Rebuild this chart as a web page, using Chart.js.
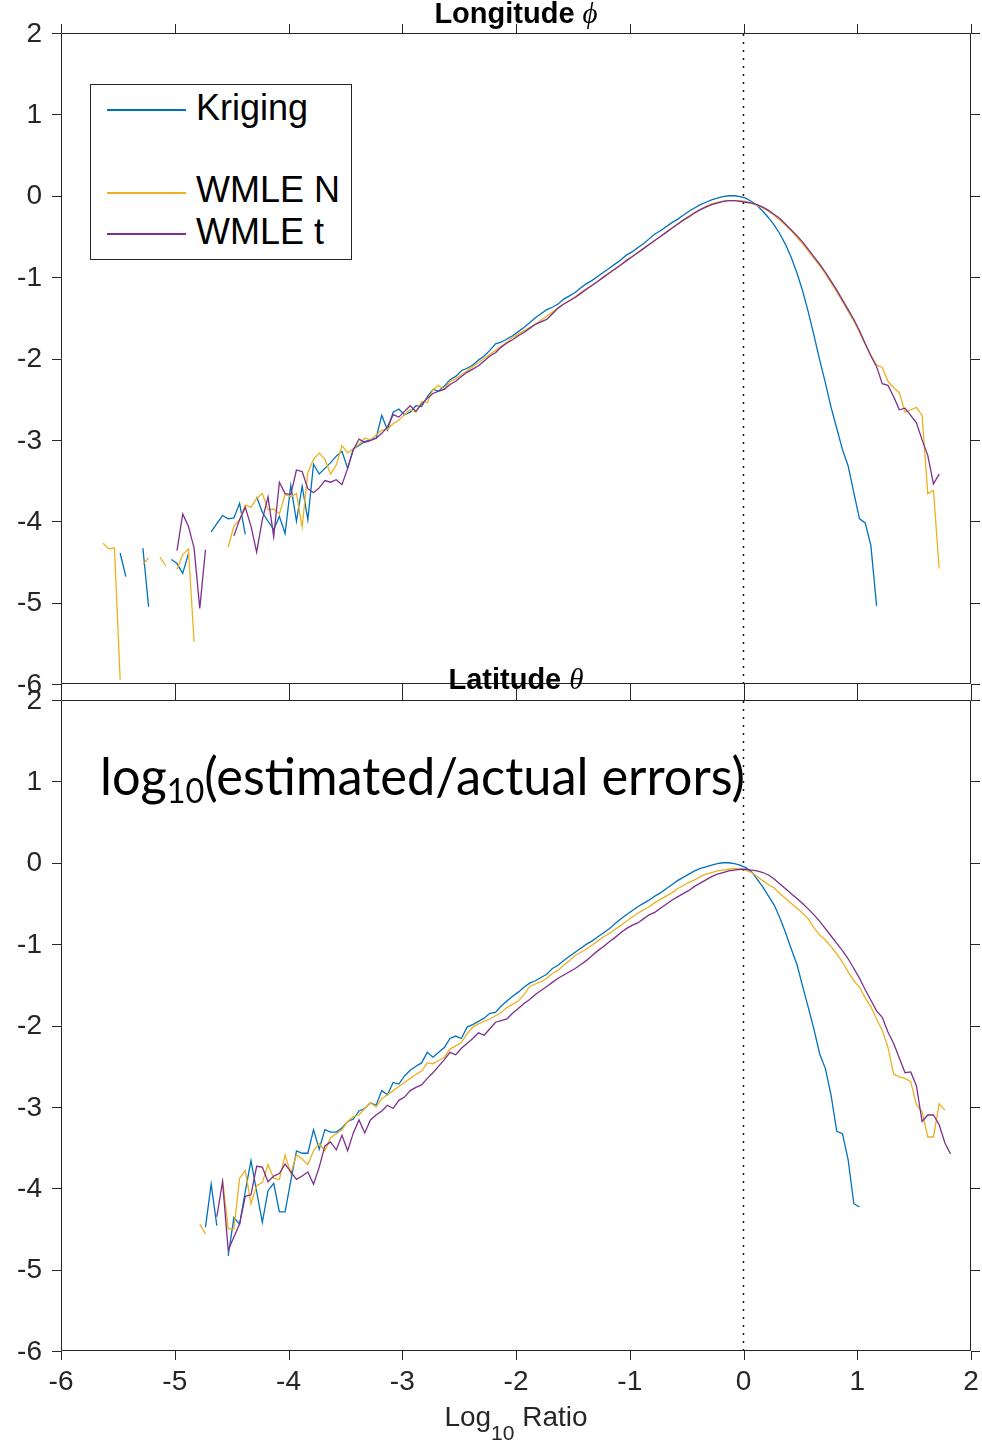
<!DOCTYPE html>
<html>
<head>
<meta charset="utf-8">
<title>log10(estimated/actual errors)</title>
<script src="https://cdn.jsdelivr.net/npm/chart.js@4.4.1/dist/chart.umd.min.js"></script>
<style>
  body { margin: 0; background: #fff; }
  #wrap { position: relative; width: 982px; height: 1440px; overflow: hidden; background: #fff; }
  #wrap canvas { position: absolute; left: 0; }
  #lonChart { top: 0; }
  #latChart { top: 667px; }
  .txt { position: absolute; white-space: nowrap; line-height: 1; color: #000; }
  .title { left: 61px; width: 910px; text-align: center; font: bold 29px "Liberation Sans", Arial, sans-serif; }
  .title i { font: italic 29px "Liberation Serif", "DejaVu Serif", serif; }
  #note { left: 100px; top: 743px; font: 53px Lato, "Open Sans", sans-serif; transform-origin: 0 0; }
  #note sub { font-size: 34px; vertical-align: -8px; }
  #xlabel { left: 61px; width: 910px; top: 1401px; text-align: center; font: 28px "Liberation Sans", Arial, sans-serif; color: #262626; }
  #xlabel sub { font-size: 21px; vertical-align: -14px; }
  #legend { position: absolute; left: 90px; top: 84px; width: 260px; height: 174px; border: 1px solid #262626; background: #fff; }
  #legend .ln { position: absolute; left: 16px; width: 79px; height: 1.5px; }
  #legend .lb { position: absolute; left: 105px; font: 36px "Liberation Sans", Arial, sans-serif; line-height: 1; white-space: nowrap; }
</style>
</head>
<body>
<div id="wrap">
  <canvas id="lonChart" width="982" height="700"></canvas>
  <canvas id="latChart" width="982" height="773"></canvas>

  <div class="txt title" style="top:-3px">Longitude <i>ϕ</i></div>
  <div class="txt title" style="top:663px">Latitude <i>θ</i></div>
  <div class="txt" id="note">log<sub>10</sub>(estimated/actual errors)</div>
  <div class="txt" id="xlabel">Log<sub>10</sub> Ratio</div>

  <div id="legend">
    <div class="ln" style="top:24px;background:#0072BD"></div>
    <div class="lb" style="top:4.5px">Kriging</div>
    <div class="ln" style="top:107px;background:#EDB120"></div>
    <div class="lb" style="top:86.5px">WMLE N</div>
    <div class="ln" style="top:148px;background:#7E2F8E"></div>
    <div class="lb" style="top:128.5px">WMLE t</div>
  </div>
</div>

<script>
// axis ticks (both panels)
const xTicks = [-6, -5, -4, -3, -2, -1, 0, 1, 2];
const yTicks = [-6, -5, -4, -3, -2, -1, 0, 1, 2];

// ---- Longitude phi (top panel) ----
const lonX = [
  -5.63,-5.58,-5.53,-5.48,-5.43,-5.38,-5.33,-5.28,-5.23,-5.18,
  -5.13,-5.08,-5.03,-4.98,-4.93,-4.88,-4.83,-4.78,-4.73,-4.68,
  -4.63,-4.58,-4.53,-4.48,-4.43,-4.38,-4.33,-4.28,-4.23,-4.18,
  -4.13,-4.08,-4.03,-3.98,-3.93,-3.88,-3.83,-3.78,-3.73,-3.68,
  -3.63,-3.58,-3.53,-3.48,-3.43,-3.38,-3.33,-3.28,-3.23,-3.18,
  -3.13,-3.08,-3.03,-2.98,-2.93,-2.88,-2.83,-2.78,-2.73,-2.68,
  -2.63,-2.58,-2.53,-2.48,-2.43,-2.38,-2.33,-2.28,-2.23,-2.18,
  -2.13,-2.08,-2.03,-1.98,-1.93,-1.88,-1.83,-1.78,-1.73,-1.68,
  -1.63,-1.58,-1.53,-1.48,-1.43,-1.38,-1.33,-1.28,-1.23,-1.18,
  -1.13,-1.08,-1.03,-0.98,-0.93,-0.88,-0.83,-0.78,-0.73,-0.68,
  -0.63,-0.58,-0.53,-0.48,-0.43,-0.38,-0.33,-0.28,-0.23,-0.18,
  -0.13,-0.08,-0.03,0.02,0.07,0.12,0.17,0.22,0.27,0.32,
  0.37,0.42,0.47,0.52,0.57,0.62,0.67,0.72,0.77,0.82,
  0.87,0.92,0.97,1.02,1.07,1.12,1.17,1.22,1.27,1.32,
  1.37,1.42,1.47,1.52,1.57,1.62,1.67,1.72,1.77
];
const lonKriging = [
  null,null,null,-4.39,-4.68,null,null,-4.33,-5.05,null,
  null,null,-4.47,-4.52,-4.64,-4.40,null,null,null,-4.13,
  -4.03,-3.93,-3.97,-3.96,-3.78,-4.16,null,-3.70,-3.89,-4.00,
  -4.10,-3.94,-4.15,-3.56,-4.00,-3.57,-3.98,-3.30,-3.42,-3.35,
  -3.28,-3.20,-3.14,-3.35,-3.11,-3.07,-3.02,-3.00,-2.98,-2.70,
  -2.88,-2.66,-2.62,-2.69,-2.66,-2.58,-2.59,-2.47,-2.38,-2.40,
  -2.34,-2.26,-2.22,-2.15,-2.12,-2.08,-2.02,-1.97,-1.90,-1.82,
  -1.80,-1.76,-1.72,-1.67,-1.62,-1.56,-1.50,-1.45,-1.40,-1.37,
  -1.33,-1.27,-1.23,-1.19,-1.13,-1.08,-1.04,-0.99,-0.94,-0.89,
  -0.84,-0.79,-0.73,-0.69,-0.64,-0.59,-0.53,-0.47,-0.43,-0.38,
  -0.33,-0.29,-0.24,-0.19,-0.15,-0.11,-0.08,-0.05,-0.03,-0.01,
  0.00,0.00,-0.01,-0.03,-0.07,-0.12,-0.19,-0.27,-0.36,-0.47,
  -0.60,-0.76,-0.95,-1.17,-1.43,-1.72,-2.02,-2.30,-2.60,-2.86,
  -3.12,-3.32,-3.65,-3.97,-4.02,-4.30,-5.04,null,null,null,
  null,null,null,null,null,null,null,null,null
];
const lonWmleN = [
  -4.27,-4.34,-4.33,-5.95,null,null,null,-4.53,-4.45,null,
  -4.44,-4.55,null,-4.59,-4.41,-4.34,-5.48,null,null,null,
  null,null,-4.32,-4.06,-3.98,-3.80,-3.83,-3.72,-3.66,-3.86,
  -3.85,-3.91,-3.67,-3.70,-3.66,-4.07,-3.40,-3.24,-3.16,-3.24,
  -3.42,-3.31,-3.07,-3.16,-3.11,-3.05,-2.98,-3.00,-2.94,-2.88,
  -2.87,-2.80,-2.76,-2.69,-2.63,-2.66,-2.53,-2.54,-2.38,-2.33,
  -2.38,-2.28,-2.25,-2.20,-2.15,-2.10,-2.05,-2.00,-1.95,-1.90,
  -1.85,-1.80,-1.74,-1.70,-1.66,-1.62,-1.58,-1.53,-1.48,-1.43,
  -1.38,-1.33,-1.29,-1.24,-1.19,-1.14,-1.10,-1.05,-1.00,-0.95,
  -0.90,-0.85,-0.79,-0.75,-0.70,-0.65,-0.60,-0.55,-0.50,-0.45,
  -0.40,-0.35,-0.30,-0.25,-0.21,-0.17,-0.13,-0.10,-0.08,-0.07,
  -0.06,-0.06,-0.06,-0.07,-0.09,-0.12,-0.15,-0.19,-0.24,-0.30,
  -0.36,-0.43,-0.51,-0.59,-0.68,-0.77,-0.86,-0.96,-1.07,-1.18,
  -1.30,-1.42,-1.54,-1.68,-1.82,-1.96,-2.08,-2.11,-2.28,-2.36,
  -2.42,-2.66,-2.63,-2.60,-2.70,-3.66,-3.62,-4.58,null
];
const lonWmleT = [
  null,null,null,null,null,null,null,null,null,null,
  null,null,null,-4.36,-3.91,-4.06,-4.33,-5.07,-4.35,null,
  null,null,null,-4.18,-3.98,-3.83,-4.06,-4.38,-3.98,-3.70,
  -4.19,-3.52,-3.66,-3.67,-3.37,-3.39,-3.60,-3.65,-3.59,-3.50,
  -3.52,-3.49,-3.55,-3.35,-3.12,-2.99,-3.03,-3.01,-2.98,-2.92,
  -2.84,-2.69,-2.72,-2.65,-2.58,-2.65,-2.56,-2.49,-2.43,-2.40,
  -2.38,-2.32,-2.28,-2.22,-2.17,-2.13,-2.09,-2.03,-1.97,-1.93,
  -1.86,-1.81,-1.77,-1.72,-1.68,-1.63,-1.58,-1.55,-1.52,-1.45,
  -1.38,-1.33,-1.29,-1.25,-1.20,-1.15,-1.10,-1.05,-1.00,-0.95,
  -0.90,-0.85,-0.80,-0.75,-0.70,-0.65,-0.60,-0.55,-0.50,-0.45,
  -0.40,-0.35,-0.30,-0.26,-0.21,-0.17,-0.14,-0.11,-0.09,-0.07,
  -0.06,-0.06,-0.07,-0.08,-0.09,-0.11,-0.14,-0.18,-0.23,-0.28,
  -0.35,-0.42,-0.49,-0.57,-0.66,-0.75,-0.84,-0.94,-1.05,-1.16,
  -1.28,-1.40,-1.52,-1.66,-1.82,-1.97,-2.10,-2.31,-2.33,-2.47,
  -2.63,-2.61,-2.70,-2.79,-3.00,-3.19,-3.54,-3.42,null
];

// ---- Latitude theta (bottom panel) ----
const latX = [
  -4.78,-4.73,-4.68,-4.63,-4.58,-4.53,-4.48,-4.43,-4.38,-4.33,
  -4.28,-4.23,-4.18,-4.13,-4.08,-4.03,-3.98,-3.93,-3.88,-3.83,
  -3.78,-3.73,-3.68,-3.63,-3.58,-3.53,-3.48,-3.43,-3.38,-3.33,
  -3.28,-3.23,-3.18,-3.13,-3.08,-3.03,-2.98,-2.93,-2.88,-2.83,
  -2.78,-2.73,-2.68,-2.63,-2.58,-2.53,-2.48,-2.43,-2.38,-2.33,
  -2.28,-2.23,-2.18,-2.13,-2.08,-2.03,-1.98,-1.93,-1.88,-1.83,
  -1.78,-1.73,-1.68,-1.63,-1.58,-1.53,-1.48,-1.43,-1.38,-1.33,
  -1.28,-1.23,-1.18,-1.13,-1.08,-1.03,-0.98,-0.93,-0.88,-0.83,
  -0.78,-0.73,-0.68,-0.63,-0.58,-0.53,-0.48,-0.43,-0.38,-0.33,
  -0.28,-0.23,-0.18,-0.13,-0.08,-0.03,0.02,0.07,0.12,0.17,
  0.22,0.27,0.32,0.37,0.42,0.47,0.52,0.57,0.62,0.67,
  0.72,0.77,0.82,0.87,0.92,0.97,1.02,1.07,1.12,1.17,
  1.22,1.27,1.32,1.37,1.42,1.47,1.52,1.57,1.62,1.67,
  1.72,1.77,1.82
];
const latKriging = [
  null,-4.48,-3.95,-4.46,null,-4.83,-4.36,-4.44,-4.04,-3.66,
  -4.04,-4.42,-4.03,-3.94,-4.29,-4.29,-3.91,-3.54,-3.57,-3.57,
  -3.28,-3.52,-3.28,-3.31,-3.31,-3.26,-3.18,-3.15,-3.05,-3.02,
  -2.95,-2.98,-2.80,-2.85,-2.70,-2.72,-2.62,-2.55,-2.50,-2.46,
  -2.33,-2.39,-2.33,-2.27,-2.16,-2.13,-2.16,-2.02,-1.99,-1.95,
  -1.91,-1.85,-1.84,-1.76,-1.70,-1.64,-1.59,-1.53,-1.48,-1.45,
  -1.41,-1.37,-1.30,-1.26,-1.20,-1.15,-1.10,-1.05,-1.00,-0.96,
  -0.91,-0.86,-0.81,-0.75,-0.69,-0.64,-0.59,-0.54,-0.50,-0.46,
  -0.41,-0.37,-0.32,-0.27,-0.22,-0.18,-0.14,-0.10,-0.07,-0.05,
  -0.03,-0.01,0.00,0.00,-0.01,-0.03,-0.06,-0.11,-0.20,-0.30,
  -0.41,-0.52,-0.68,-0.86,-1.06,-1.25,-1.52,-1.78,-2.05,-2.35,
  -2.53,-2.86,-3.30,-3.33,-3.65,-4.19,-4.23,null,null,null,
  null,null,null,null,null,null,null,null,null,null,
  null,null,null
];
const latWmleN = [
  -4.44,-4.56,null,null,-3.89,-4.50,-4.50,-3.88,-3.78,-4.19,
  -3.97,-3.93,-3.71,-3.88,-3.89,-3.59,-3.82,-3.59,-3.64,-3.71,
  -3.54,-3.45,-3.54,-3.38,-3.33,-3.28,-3.18,-3.12,-3.10,-3.02,
  -2.95,-3.00,-2.90,-2.85,-2.80,-2.75,-2.70,-2.65,-2.60,-2.56,
  -2.46,-2.47,-2.43,-2.39,-2.29,-2.25,-2.21,-2.10,-2.02,-1.98,
  -1.95,-1.92,-1.88,-1.84,-1.78,-1.74,-1.70,-1.62,-1.52,-1.49,
  -1.46,-1.42,-1.36,-1.32,-1.26,-1.20,-1.14,-1.10,-1.06,-1.01,
  -0.96,-0.91,-0.87,-0.82,-0.77,-0.72,-0.67,-0.62,-0.58,-0.54,
  -0.49,-0.45,-0.41,-0.37,-0.32,-0.28,-0.24,-0.21,-0.17,-0.14,
  -0.12,-0.10,-0.09,-0.08,-0.07,-0.08,-0.09,-0.12,-0.17,-0.22,
  -0.27,-0.31,-0.38,-0.44,-0.50,-0.56,-0.62,-0.69,-0.80,-0.89,
  -0.95,-1.03,-1.12,-1.22,-1.34,-1.45,-1.53,-1.66,-1.77,-1.92,
  -2.06,-2.27,-2.60,-2.63,-2.65,-2.69,-2.97,-3.06,-3.37,-3.37,
  -2.96,-3.04,null
];
const latWmleT = [
  null,null,null,-4.35,-3.92,-4.76,-4.60,-4.44,-4.10,-4.08,
  -3.73,-3.74,-3.92,-3.85,-3.82,-3.70,-3.80,-3.89,-3.85,-3.80,
  -3.95,-3.74,-3.48,-3.43,-3.53,-3.35,-3.54,-3.32,-3.16,-3.32,
  -3.16,-3.10,-3.05,-2.98,-3.02,-2.92,-2.88,-2.80,-2.76,-2.73,
  -2.65,-2.58,-2.50,-2.42,-2.33,-2.36,-2.28,-2.22,-2.16,-2.09,
  -2.12,-2.04,-1.96,-1.94,-1.92,-1.85,-1.79,-1.73,-1.68,-1.62,
  -1.57,-1.52,-1.47,-1.42,-1.38,-1.34,-1.30,-1.25,-1.20,-1.14,
  -1.08,-1.03,-0.97,-0.92,-0.86,-0.81,-0.77,-0.74,-0.69,-0.64,
  -0.61,-0.56,-0.51,-0.46,-0.42,-0.38,-0.34,-0.29,-0.25,-0.21,
  -0.17,-0.14,-0.12,-0.10,-0.09,-0.08,-0.08,-0.09,-0.10,-0.12,
  -0.15,-0.20,-0.26,-0.32,-0.38,-0.44,-0.50,-0.57,-0.64,-0.72,
  -0.81,-0.90,-0.99,-1.08,-1.18,-1.30,-1.42,-1.56,-1.69,-1.82,
  -1.90,-2.08,-2.22,-2.40,-2.58,-2.57,-2.74,-3.18,-3.10,-3.10,
  -3.22,-3.44,-3.58
];

const COLORS = { kriging: '#0072BD', wmleN: '#EDB120', wmleT: '#7E2F8E' };
const AXIS_COLOR = '#262626';
const TICK_FONT = '28px "Liberation Sans", Arial, sans-serif';

function toPoints(xs, ys) {
  return xs.map((x, i) => ({ x: x, y: ys[i] }));
}

// MATLAB style box: outward ticks on all four sides + tick labels (left, and bottom if asked)
const boxPlugin = {
  id: 'matlabBox',
  afterDraw(chart, args, opts) {
    const { ctx, chartArea: a, scales } = chart;
    const len = 9;
    ctx.save();
    ctx.strokeStyle = AXIS_COLOR;
    ctx.lineWidth = 1;
    ctx.beginPath();
    ctx.rect(a.left + 0.5, a.top + 0.5, a.right - a.left - 1, a.bottom - a.top - 1);
    xTicks.forEach(v => {
      const px = Math.round(scales.x.getPixelForValue(v)) + 0.5;
      ctx.moveTo(px, a.top); ctx.lineTo(px, a.top - len);
      ctx.moveTo(px, a.bottom); ctx.lineTo(px, a.bottom + len);
    });
    yTicks.forEach(v => {
      const py = Math.round(scales.y.getPixelForValue(v)) + 0.5;
      ctx.moveTo(a.left, py); ctx.lineTo(a.left - len, py);
      ctx.moveTo(a.right, py); ctx.lineTo(a.right + len, py);
    });
    ctx.stroke();

    ctx.fillStyle = AXIS_COLOR;
    ctx.font = TICK_FONT;
    ctx.textAlign = 'right';
    ctx.textBaseline = 'middle';
    yTicks.forEach(v => {
      ctx.fillText(String(v), a.left - 19, scales.y.getPixelForValue(v) + 1);
    });
    if (opts.xLabels) {
      ctx.textAlign = 'center';
      ctx.textBaseline = 'top';
      xTicks.forEach(v => {
        ctx.fillText(String(v), scales.x.getPixelForValue(v), a.bottom + 17);
      });
    }
    ctx.restore();
  }
};

function lineSet(label, data, color) {
  return {
    label: label,
    data: data,
    borderColor: color,
    backgroundColor: color,
    borderWidth: 1.3,
    pointRadius: 0,
    tension: 0,
    fill: false,
    spanGaps: false,
  };
}

function createPanel(canvasId, xs, kriging, wmleN, wmleT, showXLabels) {
  const canvas = document.getElementById(canvasId);
  const ctx = canvas.getContext('2d');
  return new Chart(ctx, {
    type: 'line',
    data: {
      datasets: [
        // first dataset is drawn last (on top), like MATLAB's plot order
        lineSet('WMLE t', toPoints(xs, wmleT), COLORS.wmleT),
        lineSet('WMLE N', toPoints(xs, wmleN), COLORS.wmleN),
        lineSet('Kriging', toPoints(xs, kriging), COLORS.kriging),
        {
          label: 'zero',
          data: [{ x: 0, y: -6 }, { x: 0, y: 2 }],
          borderColor: '#111',
          borderWidth: 1.5,
          borderDash: [2, 6],
          pointRadius: 0,
        },
      ],
    },
    options: {
      responsive: false,
      animation: false,
      events: [],
      layout: { padding: { top: 33, right: 11, bottom: showXLabels ? 0 : 16, left: 0 } },
      scales: {
        x: {
          type: 'linear',
          min: -6,
          max: 2,
          grid: { display: false, drawTicks: false },
          border: { display: false },
          ticks: { display: false, stepSize: 1 },
          afterFit: (s) => { s.height = showXLabels ? 89 : 0; },
        },
        y: {
          type: 'linear',
          min: -6,
          max: 2,
          grid: { display: false, drawTicks: false },
          border: { display: false },
          ticks: { display: false, stepSize: 1 },
          afterFit: (s) => { s.width = 61; },
        },
      },
      plugins: {
        legend: { display: false },
        tooltip: { enabled: false },
        matlabBox: { xLabels: showXLabels },
      },
    },
    plugins: [boxPlugin],
  });
}

createPanel('lonChart', lonX, lonKriging, lonWmleN, lonWmleT, false);
createPanel('latChart', latX, latKriging, latWmleN, latWmleT, true);

// squeeze the big note to the width it has in the figure (Calibri-like)
const note = document.getElementById('note');
const noteW = note.getBoundingClientRect().width;
note.style.transform = 'scaleX(' + (645 / noteW).toFixed(3) + ')';
</script>
</body>
</html>
